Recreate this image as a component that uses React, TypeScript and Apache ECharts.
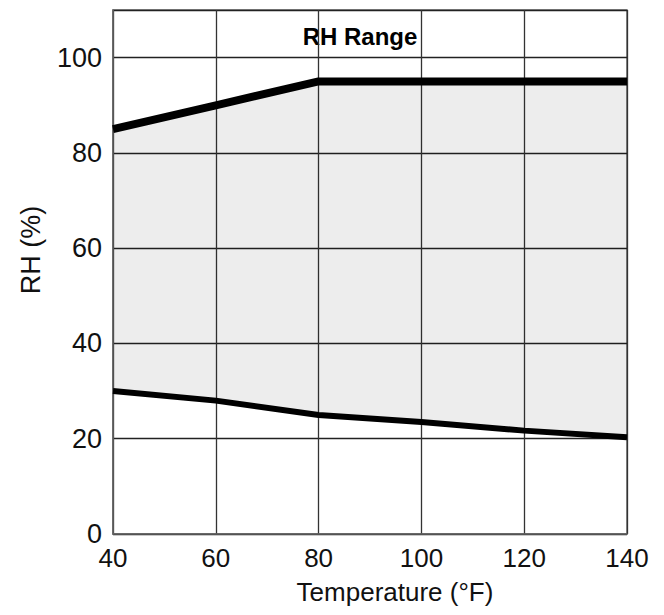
import React, { useEffect, useRef } from "react";
import * as echarts from "echarts";

const temps = ["40", "60", "80", "100", "120", "140"];
const upperRH = [85, 90, 95, 95, 95, 95];
const lowerRH = [30, 28, 25, 23.5, 21.7, 20.3];
const yTicks = [0, 20, 40, 60, 80, 100];
const titleText = "RH Range";
const xName = "Temperature (°F)";
const yName = "RH (%)";

const FONT = "'Liberation Sans', Arial, Helvetica, sans-serif";

export default function App() {
  const ref = useRef<HTMLDivElement>(null);
  useEffect(() => {
    if (!ref.current) return;
    const chart = echarts.init(ref.current, undefined, { renderer: "svg" });
    const bandDiff = upperRH.map((u, i) => +(u - lowerRH[i]).toFixed(2));
    chart.setOption({
      animation: false,
      backgroundColor: "#ffffff",
      grid: {
        left: 113,
        right: 37,
        top: 10,
        bottom: 81,
        show: true,
        borderColor: "#666",
        borderWidth: 1.5,
        containLabel: false,
      },
      xAxis: {
        type: "category",
        data: temps,
        boundaryGap: false,
        axisLine: { show: true, lineStyle: { color: "#666", width: 1.5 } },
        axisTick: { show: false },
        axisLabel: {
          margin: 11,
          fontSize: 26,
          color: "#111",
          fontFamily: FONT,
        },
        splitLine: { show: true, lineStyle: { color: "#333", width: 1.3 } },
      },
      yAxis: {
        type: "value",
        min: 0,
        max: 110,
        interval: 20,
        axisLine: { show: true, lineStyle: { color: "#666", width: 1.5 } },
        axisTick: { show: false },
        axisLabel: {
          margin: 11,
          fontSize: 27,
          color: "#111",
          fontFamily: FONT,
          showMaxLabel: false,
          formatter: (v: number) => (yTicks.includes(v) ? String(v) : ""),
        },
        splitLine: { show: true, lineStyle: { color: "#222", width: 1.3 } },
      },
      graphic: [
        {
          type: "text",
          x: 360,
          y: 36,
          style: {
            text: titleText,
            font: `bold 24px ${FONT}`,
            fill: "#000",
            textAlign: "center",
            textVerticalAlign: "middle",
          },
        },
        {
          type: "text",
          x: 395,
          y: 592,
          style: {
            text: xName,
            font: `26px ${FONT}`,
            fill: "#111",
            textAlign: "center",
            textVerticalAlign: "middle",
          },
        },
        {
          type: "text",
          x: 31,
          y: 250,
          rotation: Math.PI / 2,
          style: {
            text: yName,
            font: `27px ${FONT}`,
            fill: "#111",
            textAlign: "center",
            textVerticalAlign: "middle",
          },
        },
      ],
      series: [
        {
          name: "lower",
          type: "line",
          stack: "band",
          data: lowerRH,
          symbol: "none",
          lineStyle: { color: "#000", width: 6 },
          z: 4,
        },
        {
          name: "band",
          type: "line",
          stack: "band",
          data: bandDiff,
          symbol: "none",
          lineStyle: { width: 0, opacity: 0 },
          areaStyle: { color: "rgba(0,0,0,0.1)" },
          z: 2,
        },
        {
          name: "upper",
          type: "line",
          data: upperRH,
          symbol: "none",
          lineStyle: { color: "#000", width: 8 },
          z: 5,
        },
      ],
    });
    return () => chart.dispose();
  }, []);
  return (
    <div
      ref={ref}
      style={{ position: "absolute", left: 0, top: 0, width: 664, height: 615 }}
    />
  );
}
